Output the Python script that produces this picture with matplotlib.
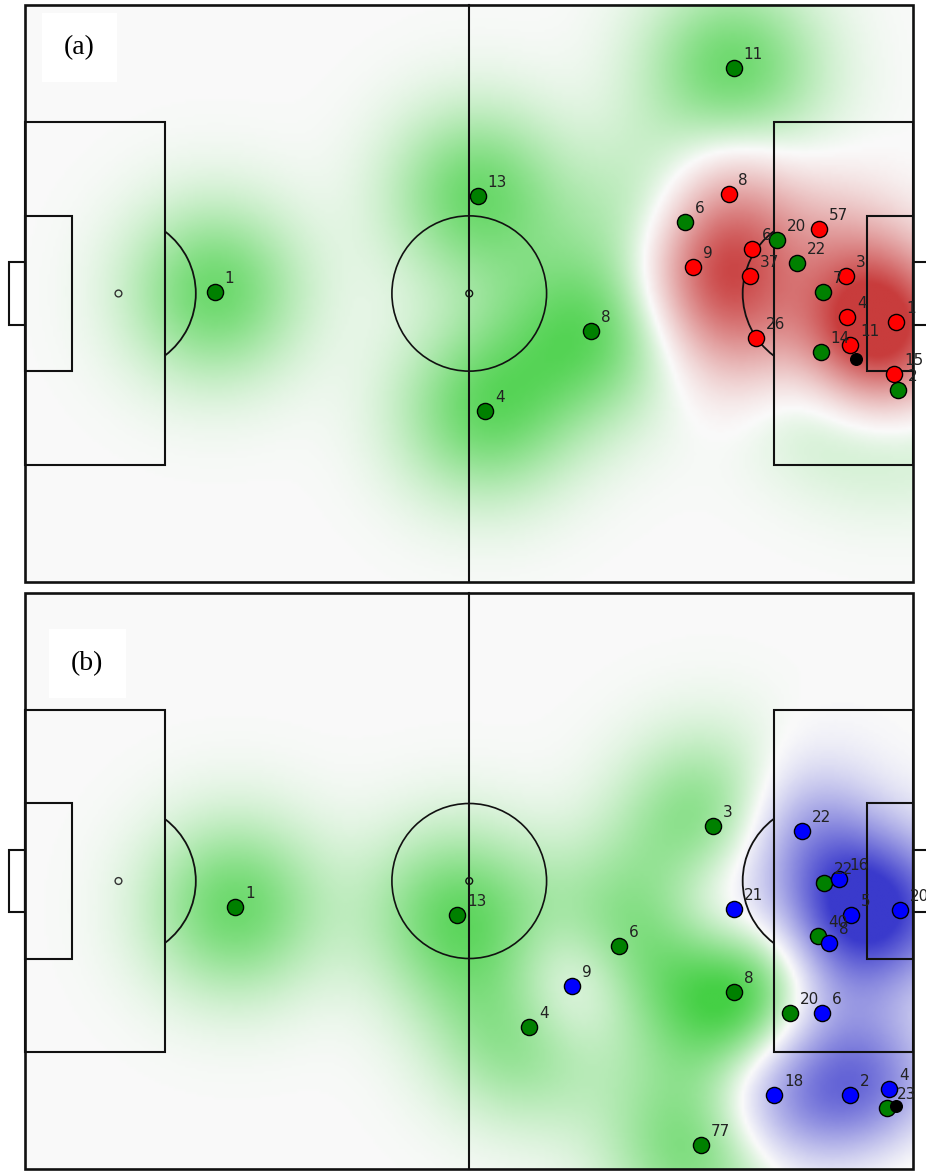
import numpy as np
import matplotlib
matplotlib.use("Agg")
import matplotlib.pyplot as plt
from matplotlib.patches import Rectangle, Arc, Circle
from matplotlib.colors import LinearSegmentedColormap, TwoSlopeNorm

# pitch size in metres, y grows downwards (top touchline = 0)
L, W = 105.0, 68.0

# ---- snapshot (a): green defends, red attacks
a_green_num = [1, 13, 8, 4, 11, 6, 20, 22, 7, 14, 2]
a_green_x = [22.4, 53.5, 66.9, 54.4, 83.8, 78.0, 88.9, 91.3, 94.4, 94.1, 103.2]
a_green_y = [33.8, 22.5, 38.4, 47.9, 7.4, 25.6, 27.7, 30.4, 33.8, 40.9, 45.4]

a_red_num = [8, 9, 6, 37, 26, 57, 3, 4, 11, 1, 15]
a_red_x = [83.2, 79.0, 86.0, 85.7, 86.4, 93.9, 97.1, 97.2, 97.6, 103.0, 102.8]
a_red_y = [22.3, 30.9, 28.8, 31.9, 39.2, 26.4, 31.9, 36.8, 40.1, 37.4, 43.5]

a_ball = (98.3, 41.7)

# ---- snapshot (b): green defends, blue attacks
b_green_num = [1, 13, 6, 4, 3, 8, 20, 22, 40, 23, 77]
b_green_x = [24.8, 51.1, 70.2, 59.6, 81.3, 83.8, 90.5, 94.5, 93.8, 101.9, 79.9]
b_green_y = [37.1, 38.0, 41.7, 51.2, 27.5, 47.1, 49.6, 34.2, 40.5, 60.8, 65.2]

b_blue_num = [9, 22, 21, 16, 5, 20, 8, 6, 18, 2, 4]
b_blue_x = [64.7, 91.9, 83.8, 96.3, 97.7, 103.5, 95.1, 94.2, 88.6, 97.6, 102.2]
b_blue_y = [46.4, 28.1, 37.3, 33.8, 38.0, 37.4, 41.3, 49.6, 59.3, 59.3, 58.6]

b_ball = (103.0, 60.6)

BG = "#fafafa"


def draw_pitch(ax):
    kw = dict(fill=False, ec="#111111", lw=1.5, zorder=2)
    ax.add_patch(Rectangle((0, 0), L, W, fill=False, ec="#111111", lw=1.9, zorder=2))
    ax.plot([L / 2, L / 2], [0, W], color="#111111", lw=1.5, zorder=2)
    for x0, sgn in ((0, 1), (L, -1)):
        ax.add_patch(Rectangle((x0 if sgn > 0 else x0 - 16.5, W / 2 - 20.16), 16.5, 40.32, **kw))
        ax.add_patch(Rectangle((x0 if sgn > 0 else x0 - 5.5, W / 2 - 9.16), 5.5, 18.32, **kw))
        ax.add_patch(Rectangle((x0 - 2 if sgn > 0 else x0, W / 2 - 3.66), 2, 7.32, **kw))
        spot = x0 + sgn * 11
        ax.add_patch(Circle((spot, W / 2), 0.4, fill=False, ec="#333333", lw=1.0, zorder=2))
        if sgn > 0:
            ax.add_patch(Arc((spot, W / 2), 18.3, 18.3, theta1=-53, theta2=53,
                             ec="#111111", lw=1.3, zorder=2))
        else:
            ax.add_patch(Arc((spot, W / 2), 18.3, 18.3, theta1=127, theta2=233,
                             ec="#111111", lw=1.3, zorder=2))
    ax.add_patch(Circle((L / 2, W / 2), 9.15, fill=False, ec="#111111", lw=1.2, zorder=2))
    ax.add_patch(Circle((L / 2, W / 2), 0.4, fill=False, ec="#111111", lw=1.0, zorder=2))


def density(xs, ys, gx, gy, s):
    d = np.zeros_like(gx)
    for x, y in zip(xs, ys):
        d += np.exp(-((gx - x) ** 2 + (gy - y) ** 2) / (2 * s ** 2))
    return d


def draw_frame(ax, tag, att, att_col, heat_col, defn, ball, tag_xy):
    ax.set_facecolor("white")
    gx, gy = np.meshgrid(np.linspace(0, L, 316), np.linspace(0, W, 205))
    # positive = attacking side dominates, negative = defending side
    field = 1.15 * density(att[1], att[2], gx, gy, 6.3) - density(defn[1], defn[2], gx, gy, 7.5)
    cmap = LinearSegmentedColormap.from_list("dom", ["#45d045", BG, heat_col])
    ax.imshow(field, extent=(0, L, W, 0), origin="upper", cmap=cmap,
              norm=TwoSlopeNorm(vcenter=0, vmin=-1.3, vmax=2.0),
              interpolation="bilinear", zorder=0, aspect="auto")
    draw_pitch(ax)

    for (num, xs, ys), col in ((defn, "green"), (att, att_col)):
        ax.scatter(xs, ys, s=135, c=col, edgecolors="black", linewidths=1.0, zorder=3)
        for n, x, y in zip(num, xs, ys):
            ax.annotate(str(n), (x, y), xytext=(7, 6.5), textcoords="offset points",
                        ha="left", va="baseline", fontsize=11, color="#222222", zorder=4)
    ax.scatter([ball[0]], [ball[1]], s=70, c="black", zorder=5)

    ax.text(tag_xy[0], tag_xy[1], tag, fontsize=20, family="Liberation Serif",
            ha="center", va="center", zorder=6,
            bbox=dict(boxstyle="square,pad=0.8", fc="white", ec="none"))


fig = plt.figure(figsize=(9.26, 11.71), dpi=100)
fig.patch.set_facecolor("white")

ax_a = fig.add_axes([0, (1171 - 588) / 1171, 1, 588 / 1171])
ax_b = fig.add_axes([0, 0, 1, 583 / 1171])

sx = L / 887.5
draw_frame(ax_a, "(a)", (a_red_num, a_red_x, a_red_y), "red", "#c83c3c",
           (a_green_num, a_green_x, a_green_y), a_ball, (6.4, 5.0))
ax_a.set_xlim(-25.5 * sx, (926 - 25.5) * sx)
ax_a.set_ylim(583 * W / 577, -5 * W / 577)

draw_frame(ax_b, "(b)", (b_blue_num, b_blue_x, b_blue_y), "blue", "#3a3acc",
           (b_green_num, b_green_x, b_green_y), b_ball, (7.3, 8.3))
ax_b.set_xlim(-25.5 * sx, (926 - 25.5) * sx)
ax_b.set_ylim((1171 - 593) * W / 576, -5 * W / 576)

for ax in (ax_a, ax_b):
    ax.axis("off")

fig.savefig("out.png", dpi=100, facecolor="white")
